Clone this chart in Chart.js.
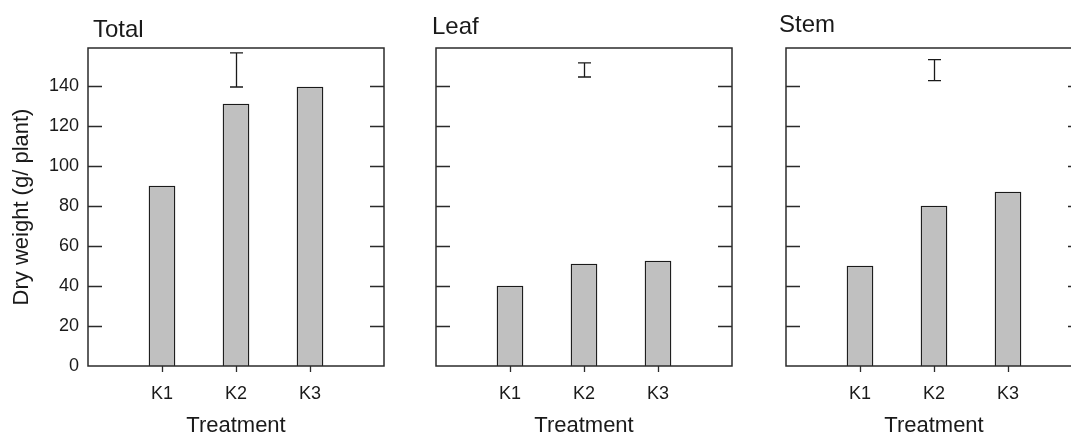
<!DOCTYPE html>
<html>
<head>
<meta charset="utf-8">
<script src="https://cdn.jsdelivr.net/npm/chart.js@4"></script>
<style>
  html, body { margin: 0; padding: 0; background: #fff; overflow: hidden; }
  canvas { position: absolute; top: 0; }
</style>
</head>
<body>
<canvas id="totalChart" width="410" height="440" style="left:0px"></canvas>
<canvas id="leafChart" width="330" height="440" style="left:410px"></canvas>
<canvas id="stemChart" width="350" height="440" style="left:740px"></canvas>
<script>
var treatments = ['K1', 'K2', 'K3'];
var totalWeight = [90, 131, 139.5];
var leafWeight = [40, 51, 52.5];
var stemWeight = [50, 80, 87];
// floating error bar above K2 in each panel
var errLow = [139.5, 144.5, 142.7];
var errHigh = [156.6, 151.6, 153.2];
var panelTitles = ['Total', 'Leaf', 'Stem'];
var yTickValues = [0, 20, 40, 60, 80, 100, 120, 140];

var fontFamily = '"Liberation Sans", Arial, Helvetica, sans-serif';
var ink = '#1a1a1a';

// box round the plot, inward y ticks on both sides, outward x ticks,
// error bar and panel title
var framePlugin = {
  id: 'frame',
  afterDraw: function (chart, args, opts) {
    var ctx = chart.ctx;
    var a = chart.chartArea;
    var xs = chart.scales.x;
    var ys = chart.scales.y;
    ctx.save();
    ctx.strokeStyle = '#2b2b2b';
    ctx.lineWidth = 1.5;
    ctx.strokeRect(a.left, a.top, a.right - a.left, a.bottom - a.top);

    ctx.lineWidth = 1.3;
    ctx.beginPath();
    ys.ticks.forEach(function (t) {
      if (t.value === 0) return;
      var py = Math.round(ys.getPixelForValue(t.value)) + 0.5;
      ctx.moveTo(a.left, py);
      ctx.lineTo(a.left + 14, py);
      ctx.moveTo(a.right - 14, py);
      ctx.lineTo(a.right, py);
    });
    xs.ticks.forEach(function (t) {
      var px = Math.round(xs.getPixelForValue(t.value)) + 0.5;
      ctx.moveTo(px, a.bottom);
      ctx.lineTo(px, a.bottom + 6);
    });
    ctx.stroke();

    var ex = Math.round(xs.getPixelForValue(opts.at)) + 0.5;
    var y1 = ys.getPixelForValue(opts.low);
    var y2 = ys.getPixelForValue(opts.high);
    ctx.strokeStyle = ink;
    ctx.beginPath();
    ctx.moveTo(ex, y1);
    ctx.lineTo(ex, y2);
    ctx.moveTo(ex - 6.5, y1);
    ctx.lineTo(ex + 6.5, y1);
    ctx.moveTo(ex - 6.5, y2);
    ctx.lineTo(ex + 6.5, y2);
    ctx.stroke();

    ctx.fillStyle = ink;
    ctx.font = '24px ' + fontFamily;
    ctx.textAlign = 'left';
    ctx.textBaseline = 'alphabetic';
    ctx.fillText(opts.title, a.left + opts.titleDx, opts.titleY);
    ctx.restore();
  }
};

function makePanel(id, i, values, showY, axisWidth, padRight, titleDx, titleY) {
  return new Chart(document.getElementById(id), {
    type: 'bar',
    data: {
      datasets: [{
        data: values.map(function (v, k) { return { x: k + 1, y: v }; }),
        backgroundColor: '#c0c0c0',
        borderColor: ink,
        borderWidth: 1.3,
        barThickness: 26
      }]
    },
    options: {
      responsive: false,
      animation: false,
      devicePixelRatio: 1,
      layout: { padding: { top: 48, right: padRight, left: 0, bottom: 0 } },
      plugins: {
        legend: { display: false },
        tooltip: { enabled: false },
        frame: { at: 2, low: errLow[i], high: errHigh[i], title: panelTitles[i], titleDx: titleDx, titleY: titleY }
      },
      scales: {
        x: {
          type: 'linear',
          min: 0,
          max: 4,
          offset: false,
          afterBuildTicks: function (s) {
            s.ticks = treatments.map(function (c, k) { return { value: k + 1 }; });
          },
          afterFit: function (s) { s.height = 74; },
          grid: { display: false, drawTicks: true, tickLength: 6 },
          border: { display: false },
          ticks: {
            autoSkip: false,
            maxRotation: 0,
            padding: 11,
            color: ink,
            font: { family: fontFamily, size: 18 },
            callback: function (v) { return treatments[v - 1]; }
          },
          title: {
            display: true,
            text: 'Treatment',
            color: ink,
            font: { family: fontFamily, size: 22 },
            padding: { top: 0, bottom: 1 }
          }
        },
        y: {
          min: 0,
          max: 159,
          afterBuildTicks: function (s) {
            s.ticks = yTickValues.map(function (v) { return { value: v }; });
          },
          afterFit: function (s) { s.width = axisWidth; },
          grid: { display: false, drawTicks: false },
          border: { display: false },
          ticks: {
            display: showY,
            padding: 9,
            color: ink,
            font: { family: fontFamily, size: 18 }
          },
          title: {
            display: showY,
            text: 'Dry weight (g/ plant)',
            color: ink,
            font: { family: fontFamily, size: 22 },
            padding: { top: 9, bottom: 0 }
          }
        }
      }
    },
    plugins: [framePlugin]
  });
}

var totalChart = makePanel('totalChart', 0, totalWeight, true, 88, 26, 5, 37);
var leafChart = makePanel('leafChart', 1, leafWeight, false, 26, 8, -4, 34);
var stemChart = makePanel('stemChart', 2, stemWeight, false, 46, 8, -7, 32);
</script>
</body>
</html>
